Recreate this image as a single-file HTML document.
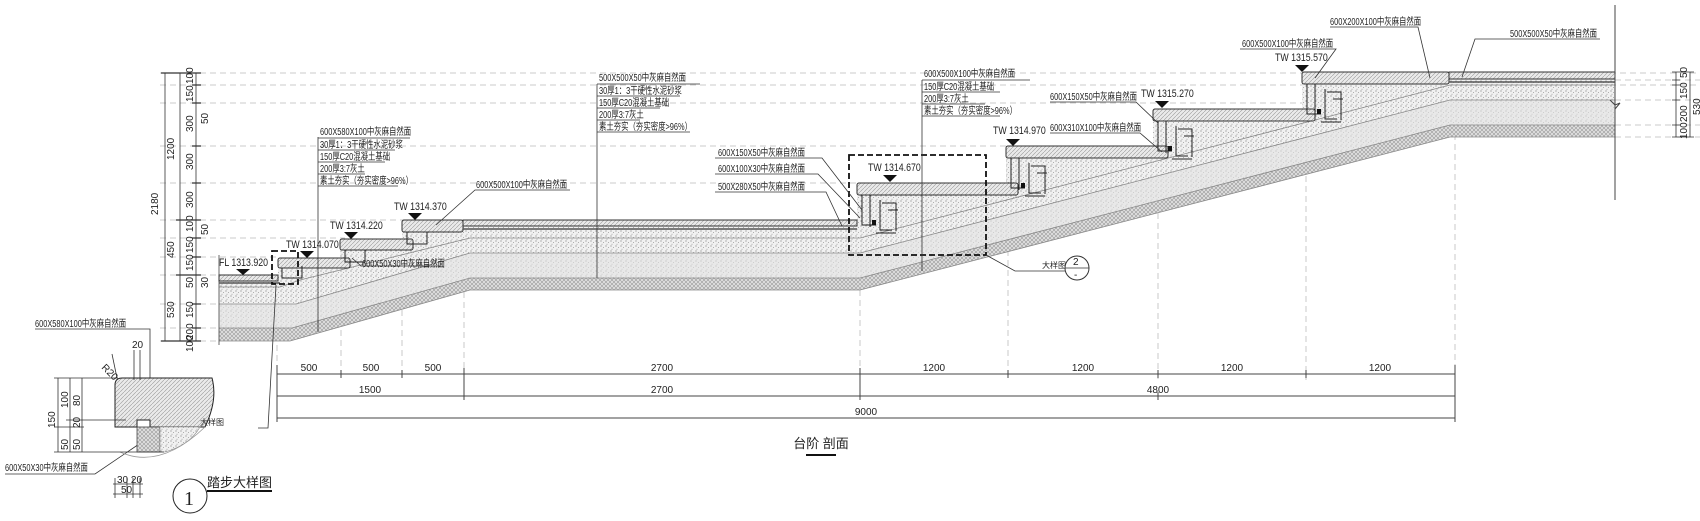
<!DOCTYPE html>
<html><head><meta charset="utf-8"><style>
html,body{margin:0;padding:0;background:#fff}
svg{display:block}
text{font-family:"Liberation Sans","Noto Sans CJK SC",sans-serif;fill:#222}
.s{font-size:10px}
.t{font-size:11px}
.c{transform-box:fill-box;transform-origin:0 50%;transform:scaleX(0.74)}
.c2{transform-box:fill-box;transform-origin:0 50%;transform:scaleX(0.8)}
</style></head><body>
<svg width="1700" height="521" viewBox="0 0 1700 521" xmlns="http://www.w3.org/2000/svg">
<defs>
<pattern id="dots" width="5" height="5" patternUnits="userSpaceOnUse">
<rect width="5" height="5" fill="#f1f1f1"/>
<circle cx="1" cy="1" r="0.6" fill="#888"/><circle cx="3.5" cy="2.5" r="0.5" fill="#999"/><circle cx="2" cy="4.2" r="0.45" fill="#888"/>
</pattern>
<pattern id="hatch" width="4" height="4" patternUnits="userSpaceOnUse">
<rect width="4" height="4" fill="#e0e0e0"/>
<path d="M0,4 L4,0 M0,0 L4,4" stroke="#999" stroke-width="0.6"/>
</pattern>
<pattern id="stone" width="4" height="4" patternUnits="userSpaceOnUse">
<rect width="4" height="4" fill="#eaeaea"/>
<path d="M0,4 L4,0" stroke="#999" stroke-width="0.6"/>
</pattern>
</defs>

<g stroke="#bbb" stroke-width="0.8" stroke-dasharray="6,4">
<line x1="160" y1="73" x2="1700" y2="73"/><line x1="160" y1="85" x2="1700" y2="85"/>
<line x1="160" y1="103" x2="1615" y2="103"/><line x1="160" y1="146" x2="1010" y2="146"/>
<line x1="160" y1="183" x2="860" y2="183"/><line x1="160" y1="220" x2="405" y2="220"/>
<line x1="160" y1="238" x2="345" y2="238"/><line x1="160" y1="257" x2="280" y2="257"/>
<line x1="160" y1="275" x2="220" y2="275"/><line x1="160" y1="304" x2="220" y2="304"/>
<line x1="160" y1="328" x2="220" y2="328"/><line x1="160" y1="341" x2="220" y2="341"/>
<line x1="1615" y1="80" x2="1700" y2="80"/><line x1="1615" y1="100" x2="1700" y2="100"/>
<line x1="1615" y1="125" x2="1700" y2="125"/><line x1="1615" y1="137" x2="1700" y2="137"/>
</g>
<g stroke="#bbb" stroke-width="0.8" stroke-dasharray="6,4">
<line x1="277" y1="285" x2="277" y2="380"/><line x1="341" y1="270" x2="341" y2="380"/>
<line x1="402" y1="250" x2="402" y2="380"/><line x1="464" y1="232" x2="464" y2="380"/>
<line x1="860" y1="230" x2="860" y2="380"/><line x1="1008" y1="160" x2="1008" y2="380"/>
<line x1="1158" y1="123" x2="1158" y2="380"/><line x1="1306" y1="86" x2="1306" y2="380"/>
<line x1="1455" y1="84" x2="1455" y2="380"/>
</g>

<path d="M219,275 L278,275 L278,258 L340,258 L340,239 L402,239 L402,220 L857,220 L857,183 L1006,183 L1006,146 L1153,146 L1153,109 L1302,109 L1302,72 L1615,72 L1615,137 L1450,137 L860,290 L470,290 L290,341 L219,341 Z" fill="url(#dots)"/>
<path d="M219,304 L296,304 L470,253 L860,253 L1450,100 L1615,100 L1615,125 L1450,125 L860,278 L470,278 L292,328 L219,328 Z" fill="#e2e2e2" opacity="0.6"/>
<path d="M219,328 L292,328 L470,278 L860,278 L1450,125 L1615,125 L1615,137 L1450,137 L860,290 L470,290 L290,341 L219,341 Z" fill="url(#hatch)"/>
<g fill="none" stroke="#888" stroke-width="0.8">
<path d="M219,304 L296,304 L470,253 L860,253 L1450,100 L1615,100"/>
<path d="M219,328 L292,328 L470,278 L860,278 L1450,125 L1615,125"/>
<path d="M219,341 L290,341 L470,290 L860,290 L1450,137 L1615,137"/>
<path d="M219,287 L280,287 L300,280 L470,238 L860,238 L1450,85 L1615,85"/>
</g>
<line x1="219" y1="255" x2="219" y2="345" stroke="#444" stroke-width="0.8"/>

<g stroke="#333" stroke-width="1" fill="url(#stone)">
<rect x="219" y="275" width="59" height="6"/>
<rect x="278" y="258" width="72" height="10" rx="2"/>
<rect x="340" y="239" width="73" height="11" rx="2"/>
<rect x="402" y="220" width="61" height="12" rx="2"/>
<rect x="463" y="220" width="394" height="6"/>
<rect x="857" y="183" width="161" height="12" rx="2"/>
<rect x="1006" y="146" width="162" height="12" rx="2"/>
<rect x="1153" y="109" width="162" height="12" rx="2"/>
<rect x="1302" y="72" width="147" height="12" rx="2"/>
<rect x="1449" y="72" width="166" height="7"/>
</g>
<g stroke="#555" stroke-width="1.5" fill="none">
<path d="M463,229 L857,229"/><path d="M219,283 L280,283"/>
<path d="M1449,82 L1615,82"/>
</g>
<g stroke="#222" stroke-width="1" fill="none">
<path d="M282,268 v10 h20 v-12"/><path d="M345,250 v12 h20 v-12"/><path d="M407,232 v12 h20 v-12"/>
<path d="M862,195 v30 h14 M870,195 v32 M880,200 v30 h12 M882,203 h14 v28 M888,210 h10 M876,233 h20"/>
<path d="M1011,158 v30 h14 M1019,158 v32 M1029,163 v30 h12 M1031,166 h14 v28 M1037,173 h10 M1025,196 h20"/>
<path d="M1158,121 v30 h14 M1166,121 v32 M1176,126 v30 h12 M1178,129 h14 v28 M1184,136 h10 M1172,159 h20"/>
<path d="M1307,84 v30 h14 M1315,84 v32 M1325,89 v30 h12 M1327,92 h14 v28 M1333,99 h10 M1321,122 h20"/>
</g>
<g fill="#111"><rect x="872" y="220" width="4" height="5"/><rect x="1021" y="183" width="4" height="5"/><rect x="1168" y="146" width="4" height="5"/><rect x="1317" y="109" width="4" height="5"/></g>

<g fill="none" stroke="#111" stroke-width="1.8" stroke-dasharray="6,3">
<rect x="272" y="251" width="26" height="33"/>
<rect x="849" y="155" width="137" height="100"/>
</g>

<line x1="1615" y1="5" x2="1615" y2="200" stroke="#444" stroke-width="1"/>
<path d="M1610,100 l5,5 l5,-2 l-5,6" stroke="#444" fill="none"/>

<g stroke="#333" stroke-width="0.8">
<line x1="165" y1="73" x2="165" y2="341"/><line x1="180" y1="73" x2="180" y2="341"/><line x1="196" y1="73" x2="196" y2="341"/>
<g stroke-width="1.2">
<path d="M161,73h40 M161,341h40 M176,220h25 M176,275h25 M192,85h9 M192,103h9 M192,146h9 M192,183h9 M192,238h9 M192,257h9 M192,304h9 M192,328h9"/>
</g>
<line x1="1690" y1="72" x2="1690" y2="137"/><line x1="1676" y1="72" x2="1676" y2="137"/>
<path d="M1672,72h22 M1672,80h8 M1672,85h8 M1672,100h8 M1672,125h8 M1672,137h22"/>
</g>
<g class="s">
<text transform="translate(158,215) rotate(-90)">2180</text>
<text transform="translate(174,160) rotate(-90)">1200</text>
<text transform="translate(174,258) rotate(-90)">450</text>
<text transform="translate(174,318) rotate(-90)">530</text>
<text transform="translate(193,84) rotate(-90)">100</text>
<text transform="translate(193,102) rotate(-90)">150</text>
<text transform="translate(193,132) rotate(-90)">300</text>
<text transform="translate(193,170) rotate(-90)">300</text>
<text transform="translate(193,208) rotate(-90)">300</text>
<text transform="translate(193,232) rotate(-90)">100</text>
<text transform="translate(193,253) rotate(-90)">150</text>
<text transform="translate(193,271) rotate(-90)">150</text>
<text transform="translate(193,288) rotate(-90)">50</text>
<text transform="translate(193,318) rotate(-90)">150</text>
<text transform="translate(193,340) rotate(-90)">200</text>
<text transform="translate(193,352) rotate(-90)">100</text>
<text transform="translate(208,124) rotate(-90)">50</text>
<text transform="translate(208,235) rotate(-90)">50</text>
<text transform="translate(208,288) rotate(-90)">30</text>
<text transform="translate(1687,78) rotate(-90)">50</text>
<text transform="translate(1687,99) rotate(-90)">150</text>
<text transform="translate(1687,122) rotate(-90)">200</text>
<text transform="translate(1687,139) rotate(-90)">100</text>
<text transform="translate(1700,115) rotate(-90)">530</text>
</g>

<g class="t">
<text class="c2" x="219" y="266">FL 1313.920</text>
<text class="c2" x="286" y="248">TW 1314.070</text>
<text class="c2" x="330" y="229">TW 1314.220</text>
<text class="c2" x="394" y="210">TW 1314.370</text>
<text class="c2" x="868" y="171">TW 1314.670</text>
<text class="c2" x="993" y="134">TW 1314.970</text>
<text class="c2" x="1141" y="97">TW 1315.270</text>
<text class="c2" x="1275" y="61">TW 1315.570</text>
</g>
<g fill="#111">
<path d="M236,269 h14 l-7,6z"/><path d="M300,251 h14 l-7,7z"/><path d="M344,232 h14 l-7,7z"/><path d="M408,213 h14 l-7,7z"/>
<path d="M883,175 h14 l-7,7z"/><path d="M1006,139 h14 l-7,7z"/><path d="M1155,101 h14 l-7,7z"/><path d="M1295,65 h14 l-7,7z"/>
</g>

<g stroke="#333" stroke-width="0.8" fill="none">
<path d="M318,137 V332"/><path d="M318,138 H410"/><path d="M318,150 H395"/><path d="M318,162 H385"/><path d="M318,174 H365"/><path d="M318,186 H398"/>
<path d="M597,84 V278"/><path d="M597,84 H700"/><path d="M597,96 H680"/><path d="M597,108 H660"/><path d="M597,120 H640"/><path d="M597,132 H690"/>
<path d="M922,80 V271"/><path d="M922,80 H1030"/><path d="M922,92 H1000"/><path d="M922,104 H985"/><path d="M922,116 H1000"/>
<path d="M570,190 H475 L436,225"/>
<path d="M440,266 H361 L352,258"/>
<path d="M715,158 H822 L862,210"/><path d="M715,174 H818 L860,218"/><path d="M715,192 H826 L842,226"/>
<path d="M986,255 L1015,271 H1065"/>
<path d="M1050,102 H1136 L1158,123"/><path d="M1050,133 H1140 L1162,152"/>
<path d="M1240,49 H1336 L1315,78"/><path d="M1330,27 H1418 L1430,78"/><path d="M1508,39 H1600"/><path d="M1508,39 H1475 L1462,77"/>
</g>
<g class="s">
<text class="c" x="320" y="135">600X580X100中灰麻自然面</text>
<text class="c" x="320" y="148">30厚1：3干硬性水泥砂浆</text>
<text class="c" x="320" y="160">150厚C20混凝土基础</text>
<text class="c" x="320" y="172">200厚3:7灰土</text>
<text class="c" x="320" y="184">素土夯实（夯实密度&gt;96%）</text>
<text class="c" x="599" y="81">500X500X50中灰麻自然面</text>
<text class="c" x="599" y="94">30厚1：3干硬性水泥砂浆</text>
<text class="c" x="599" y="106">150厚C20混凝土基础</text>
<text class="c" x="599" y="118">200厚3:7灰土</text>
<text class="c" x="599" y="130">素土夯实（夯实密度&gt;96%）</text>
<text class="c" x="924" y="77">600X500X100中灰麻自然面</text>
<text class="c" x="924" y="90">150厚C20混凝土基础</text>
<text class="c" x="924" y="102">200厚3:7灰土</text>
<text class="c" x="924" y="114">素土夯实（夯实密度&gt;96%）</text>
<text class="c" x="476" y="188">600X500X100中灰麻自然面</text>
<text class="c" x="362" y="267">600X50X30中灰麻自然面</text>
<text class="c" x="718" y="156">600X150X50中灰麻自然面</text>
<text class="c" x="718" y="172">600X100X30中灰麻自然面</text>
<text class="c" x="718" y="190">500X280X50中灰麻自然面</text>
<text class="c" x="1050" y="100">600X150X50中灰麻自然面</text>
<text class="c" x="1050" y="131">600X310X100中灰麻自然面</text>
<text class="c" x="1242" y="47">600X500X100中灰麻自然面</text>
<text class="c" x="1330" y="25">600X200X100中灰麻自然面</text>
<text class="c" x="1510" y="37">500X500X50中灰麻自然面</text>
<text x="1042" y="268" style="font-size:8px">大样图</text>
</g>
<circle cx="1077" cy="268" r="12" fill="#fff" stroke="#333"/>
<line x1="1065" y1="268" x2="1089" y2="268" stroke="#333" stroke-width="0.8"/>
<text x="1073" y="265" class="s">2</text><text x="1074" y="278" class="s">-</text>

<g stroke="#444" stroke-width="1">
<line x1="277" y1="374" x2="1455" y2="374"/><line x1="277" y1="396" x2="1455" y2="396"/><line x1="277" y1="418" x2="1455" y2="418"/>
<line x1="277" y1="365" x2="277" y2="422"/><line x1="1455" y1="365" x2="1455" y2="422"/>
<line x1="860" y1="368" x2="860" y2="400"/><line x1="464" y1="368" x2="464" y2="400"/>
<path d="M341,370v8 M402,370v8 M1008,370v8 M1158,370v8 M1306,370v8 M1158,392v8"/>
</g>
<g class="s" text-anchor="middle">
<text x="309" y="371">500</text><text x="371" y="371">500</text><text x="433" y="371">500</text>
<text x="662" y="371">2700</text><text x="934" y="371">1200</text><text x="1083" y="371">1200</text>
<text x="1232" y="371">1200</text><text x="1380" y="371">1200</text>
<text x="370" y="393">1500</text><text x="662" y="393">2700</text><text x="1158" y="393">4800</text>
<text x="866" y="415">9000</text>
</g>
<text x="821" y="448" style="font-size:13px" text-anchor="middle">台阶 剖面</text>
<line x1="806" y1="455" x2="836" y2="455" stroke="#111" stroke-width="2"/>

<g stroke="#333" stroke-width="0.8" fill="none">
<path d="M35,329 H150 L150,383"/>
<path d="M258,428 H268 L276,285"/>
<path d="M5,474 H95 L145,440"/>
<path d="M112,354 L117,378"/>
</g>
<path d="M122,378 H212 Q218,400 205,427 H150 V420 H137 V427 H115 V385 Q115,378 122,378Z" fill="url(#stone)" stroke="#222"/>
<path d="M137,427 H160 V452 H137Z" fill="url(#hatch)" stroke="#333" stroke-width="0.7"/>
<path d="M160,427 H200 Q190,445 165,452 H160Z" fill="url(#dots)" stroke="#888" stroke-width="0.6"/>
<path d="M120,452 Q160,470 205,427" fill="none" stroke="#999" stroke-width="0.8"/>
<g stroke="#333" stroke-width="0.8">
<line x1="58" y1="378" x2="58" y2="452"/><line x1="70" y1="378" x2="70" y2="452"/><line x1="82" y1="378" x2="82" y2="452"/>
<path d="M54,378h64 M66,420h60 M54,427h30 M54,452h110 M134,350v30 M140,350v30 M115,478v20 M127,478v20 M133,478v20 M140,478v20 M113,484h30 M113,494h30"/>
</g>
<g class="s">
<text class="c" x="35" y="327">600X580X100中灰麻自然面</text>
<text class="c" x="5" y="471">600X50X30中灰麻自然面</text>
<text transform="translate(101,368) rotate(45)">R20</text>
<text x="132" y="348">20</text>
<text transform="translate(55,428) rotate(-90)">150</text>
<text transform="translate(68,408) rotate(-90)">100</text>
<text transform="translate(80,406) rotate(-90)">80</text>
<text transform="translate(80,428) rotate(-90)">20</text>
<text transform="translate(68,450) rotate(-90)">50</text>
<text transform="translate(80,450) rotate(-90)">50</text>
<text x="117" y="483">30 20</text><text x="121" y="493">50</text>
<text x="200" y="425" style="font-size:8px">大样图</text>
</g>
<circle cx="190" cy="496" r="17" fill="none" stroke="#222"/>
<text x="184" y="505" style="font-size:20px;font-family:'Liberation Serif',serif">1</text>
<text x="207" y="487" style="font-size:13px">踏步大样图</text>
<line x1="207" y1="491" x2="272" y2="491" stroke="#111" stroke-width="2"/>
</svg>
</body></html>
